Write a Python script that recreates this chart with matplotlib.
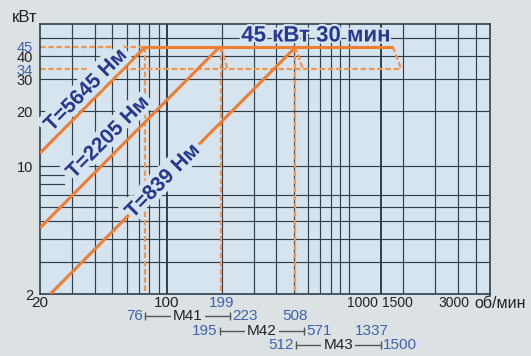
import matplotlib
matplotlib.use('Agg')
import matplotlib.pyplot as plt
import matplotlib.patheffects as pe
import matplotlib.transforms as mtransforms

# torque lines: start point and corner point (speed, power)
torque_labels = ['T=5645 Нм', 'T=2205 Нм', 'T=839 Нм']
line_n = [[20, 76], [20, 195], [22.8, 512]]
line_p = [[11.8, 45], [4.6, 45], [2, 45]]
label_n = [35.8, 47.4, 95]
label_p = [26.1, 14.4, 8.3]

# 45 kW limit and 34 kW dashed limit
p_max = 45
p_cont = 34
n_max_end = 1750
n_cont_end = 1950
n_corner = [76, 199, 508]
n_slant = [None, 215, 560]

# speed ranges
ranges = ['M41', 'M42', 'M43']
range_lo = [76, 195, 512]
range_hi = [223, 571, 1500]
range_top = ['199', '508', '1337']
range_top_n = [199, 508, 1337]

x_grid = [30, 40, 50, 60, 70, 80, 90, 100, 200, 300, 400, 500, 600, 700, 800, 900,
          1000, 1500, 2000, 3000, 4000, 5000]
x_thick = [100, 1500]
y_grid = [3, 4, 5, 6, 7, 10, 20, 30, 40, 50]
y_short = [8, 9]
y_ticks = [2, 10, 20, 30, 34, 40, 45]
y_blue = [34, 45]

bg = '#dce2e4'
face = '#d5e4ee'
grid_c = '#2f3f4c'
orange = '#f07d30'
dash_c = '#f2954f'
dark_blue = '#24398f'
light_blue = '#3e62ad'
txt = '#222222'

plt.rcParams['font.family'] = ['Liberation Sans', 'DejaVu Sans']

fig = plt.figure(figsize=(5.31, 3.56), dpi=100, facecolor=bg)
W, H = 531, 356
ax = fig.add_axes([40 / W, (356 - 294) / H, 450 / W, 270 / H], facecolor=face)
ax.set_xscale('log')
ax.set_yscale('log')
ax.set_xlim(20, 6000)
ax.set_ylim(2, 60)

# grid
for x in x_grid:
    ax.axvline(x, color=grid_c, lw=1.4 if x in x_thick else 0.85, zorder=1)
for y in y_grid:
    ax.axhline(y, color=grid_c, lw=0.85, zorder=1)
for y in y_short:
    ax.plot([20, 27], [y, y], color=grid_c, lw=0.85, zorder=1)

for s in ax.spines.values():
    s.set_color(grid_c)
    s.set_linewidth(1.2)

# dashed limits
dash = dict(color=dash_c, lw=1.6, ls=(0, (2.5, 1.2)), zorder=2)
ax.plot([20, n_corner[0]], [p_max, p_max], **dash)
ax.plot([20, n_cont_end], [p_cont, p_cont], **dash)
ax.plot([n_max_end, n_cont_end], [p_max, p_cont], **dash)
for n, ns in zip(n_corner, n_slant):
    ax.plot([n, n], [p_max, 2], **dash)
    if ns:
        ax.plot([n, ns], [p_max, p_cont], **dash)

# solid lines
ax.plot([n_corner[0], n_max_end], [p_max, p_max], color=orange, lw=2.2, zorder=3,
        solid_capstyle='butt')
for ns, ps in zip(line_n, line_p):
    ax.plot(ns, ps, color=orange, lw=2.2, zorder=3, solid_capstyle='butt')

glow = [pe.withStroke(linewidth=7, foreground=face)]
for lab, x, y in zip(torque_labels, label_n, label_p):
    ax.text(x, y, lab, rotation=45, rotation_mode='anchor', ha='center', va='center',
            fontsize=15, fontweight='bold', color=dark_blue, zorder=5, path_effects=glow)

ax.text(660, 51.6, '45 кВт 30 мин', ha='center', va='center', fontsize=16,
        fontweight='bold', color=dark_blue, zorder=5,
        path_effects=[pe.withStroke(linewidth=3, foreground=face)])

# y ticks
ax.set_yticks(y_ticks)
ax.set_yticklabels([str(v) for v in y_ticks])
ax.yaxis.set_minor_locator(matplotlib.ticker.NullLocator())
ax.xaxis.set_minor_locator(matplotlib.ticker.NullLocator())
ax.set_xticks([])
ax.tick_params(axis='y', length=0, pad=5, labelsize=10.5)
for lab, v in zip(ax.get_yticklabels(), y_ticks):
    lab.set_color(light_blue if v in y_blue else txt)

# x labels below axis
tr = mtransforms.blended_transform_factory(ax.transData, ax.transAxes)
row = [-9 / 270, -22 / 270, -37 / 270, -51 / 270]
fs = 11
for v in [20, 100]:
    ax.text(v, row[0], str(v), transform=tr, ha='center', va='center', fontsize=fs, color=txt)
for v, dx in zip([1000, 1500, 3000], [14, 17, 19]):
    ax.annotate(str(v), xy=(v, row[0]), xycoords=tr, xytext=(dx, 0), textcoords='offset pixels',
                ha='center', va='center', fontsize=10, color=txt)
fig.text(500 / W, 1 - 303 / H, 'об/мин', ha='center', va='center', fontsize=11.5, color=txt)
fig.text(25 / W, 1 - 17 / H, 'кВт', ha='center', va='center', fontsize=12, color=txt)

# speed ranges
for i, (name, lo, hi) in enumerate(zip(ranges, range_lo, range_hi)):
    y = row[i + 1]
    ax.plot([lo, hi], [y, y], transform=tr, color='#555555', lw=1, clip_on=False,
            marker='|', markersize=6, markeredgewidth=1)
    mid = (lo * hi) ** 0.5
    ax.text(mid, y, name, transform=tr, ha='center', va='center', fontsize=fs, color=txt,
            bbox=dict(boxstyle='square,pad=0.15', fc=bg, ec='none'))
    ax.annotate(str(lo), xy=(lo, y), xycoords=tr, xytext=(-2, 0), textcoords='offset pixels',
                ha='right', va='center', fontsize=fs, color=light_blue)
    ax.annotate(str(hi), xy=(hi, y), xycoords=tr, xytext=(2, 0), textcoords='offset pixels',
                ha='left', va='center', fontsize=fs, color=light_blue)
    ax.text(range_top_n[i], row[i], range_top[i], transform=tr, ha='center', va='center',
            fontsize=fs, color=light_blue)

fig.savefig('out.png', dpi=100, facecolor=bg)
